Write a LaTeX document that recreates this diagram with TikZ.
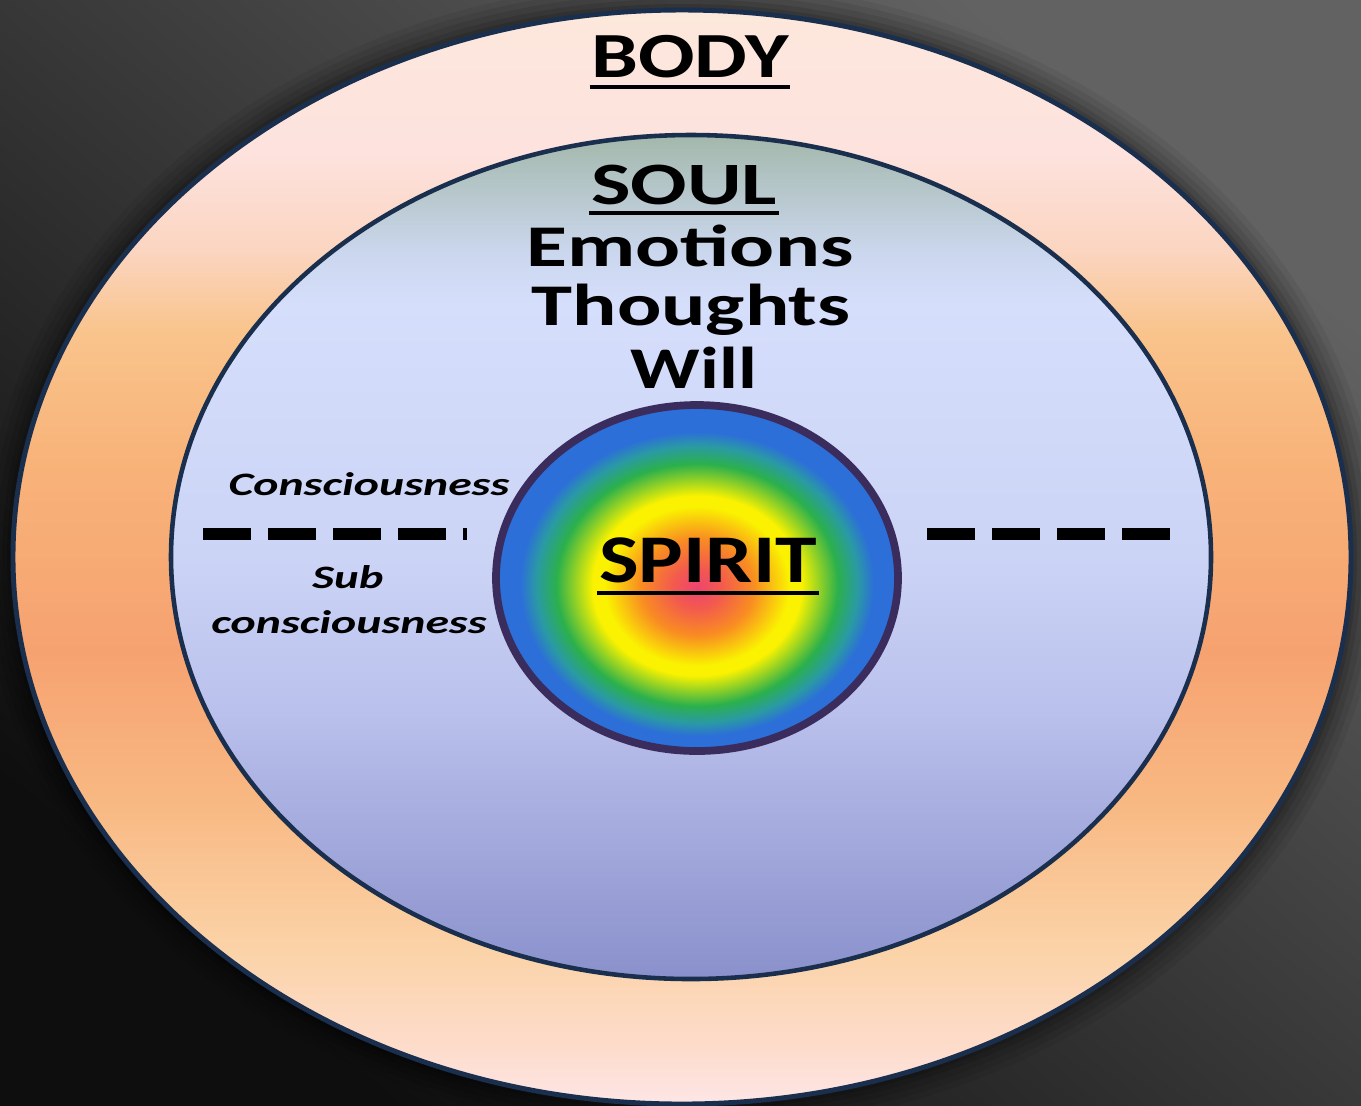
\documentclass[tikz,border=0pt]{standalone}
\usepackage{fontspec}
\setmainfont{Carlito}
\usepackage{graphicx}
\usetikzlibrary{calc}
\definecolor{bgtop}{HTML}{626262}
\definecolor{bgbot}{HTML}{0E0E0E}
\definecolor{rimline}{HTML}{1A2F4E}
\definecolor{spiritline}{HTML}{3A2D5E}
\definecolor{ringA}{HTML}{FDE6E6}
\definecolor{ringB}{HTML}{FDDCCC}
\definecolor{ringC}{HTML}{FBD3A8}
\definecolor{ringD}{HTML}{F8B882}
\definecolor{ringE}{HTML}{F6A270}
\definecolor{ringF}{HTML}{F8B47A}
\definecolor{ringG}{HTML}{F9C48C}
\definecolor{ringH}{HTML}{FBD5C0}
\definecolor{ringI}{HTML}{FDE2DE}
\definecolor{ringJ}{HTML}{FDE8DC}
\definecolor{soulA}{HTML}{8A90CB}
\definecolor{soulB}{HTML}{BAC1EC}
\definecolor{soulC}{HTML}{CCD4F6}
\definecolor{soulD}{HTML}{D5DEFB}
\definecolor{soulE}{HTML}{CBD7EE}
\definecolor{soulF}{HTML}{A3B8AB}
\definecolor{spA}{HTML}{EE4470}
\definecolor{spB}{HTML}{F35A4E}
\definecolor{spC}{HTML}{F98C22}
\definecolor{spD}{HTML}{FAF200}
\definecolor{spE}{HTML}{2BB04C}
\definecolor{spF}{HTML}{2A9AA4}
\definecolor{spG}{HTML}{2C6FD8}
\pgfdeclareverticalshading{ringshade}{100bp}{%
  color(0bp)=(ringA); color(25bp)=(ringA); color(27.5bp)=(ringB); color(32bp)=(ringC);
  color(38.9bp)=(ringD); color(45.7bp)=(ringE); color(54.8bp)=(ringF); color(60.3bp)=(ringG);
  color(64bp)=(ringH); color(68.5bp)=(ringI); color(75bp)=(ringJ); color(100bp)=(ringJ)}
\pgfdeclareverticalshading{soulshade}{100bp}{%
  color(0bp)=(soulA); color(25bp)=(soulA); color(41bp)=(soulB); color(50bp)=(soulC);
  color(65bp)=(soulD); color(68bp)=(soulE); color(75bp)=(soulF); color(100bp)=(soulF)}
\pgfdeclareradialshading{spiritshade}{\pgfpoint{0bp}{-1.5bp}}{%
  color(0bp)=(spA); color(3bp)=(spB); color(7bp)=(spC); color(11.5bp)=(spD);
  color(13bp)=(spD); color(17.5bp)=(spE); color(20bp)=(spF); color(22bp)=(spG);
  color(25bp)=(spG); color(50bp)=(spG)}
\newcommand\hs[2]{\scalebox{#1}[1]{#2}}
\tikzset{
  lbl/.style={inner sep=0pt, anchor=base, text=black},
  bigfont/.style={font=\bfseries\fontsize{#1}{#1}\selectfont},
  smallfont/.style={font=\bfseries\itshape\fontsize{9.3}{10}\selectfont},
  uline/.style={line width=1.4pt, black},
  divider/.style={line width=1.2mm, black, dash pattern=on 4.8mm off 1.7mm}
}
\begin{document}
\begin{tikzpicture}[x=0.01cm,y=-0.01cm]
\useasboundingbox (0,0) rectangle (1361,1105);
\shade[top color=bgtop, bottom color=bgbot, shading angle=-40] (0,0) rectangle (1361,1105);
% shadow halo
\foreach \d/\o in {28/0.06,22/0.07,16/0.08,10/0.1,5/0.12}{
  \fill[black, opacity=\o] (682,557) ellipse ({670+\d} and {548+\d});
}
% body
\shade[shading=ringshade, draw=rimline, line width=1.4pt] (682,557) ellipse (669 and 547);
% soul
\shade[shading=soulshade, draw=rimline, line width=1.3pt] (691,557) ellipse (520 and 422);
% spirit
\shade[shading=spiritshade, draw=spiritline, line width=2.2pt] (697,578) ellipse (201 and 173);

% texts
\node[lbl, bigfont=18.3] (body) at (690,77) {\hs{1.3}{BODY}};
\draw[uline] ($(body.base west)+(-1,10)$) -- ($(body.base east)+(1,10)$);
\node[lbl, bigfont=17.1] (soul) at (684,204) {\hs{1.39}{SOUL}};
\draw[uline] ($(soul.base west)+(-1,9)$) -- ($(soul.base east)+(1,9)$);
\node[lbl, bigfont=16.8] (emo) at (690,266) {\hs{1.42}{Emotions}};
\node[lbl, bigfont=16.8] (tho) at (691,325) {\hs{1.40}{Thoughts}};
\node[lbl, bigfont=16.8] (will) at (694,388) {\hs{1.30}{Will}};
\node[lbl, bigfont=19.4] (spirit) at (708,582) {\hs{1.23}{SPIRIT}};
\draw[uline] ($(spirit.base west)+(-1,11)$) -- ($(spirit.base east)+(1,11)$);

\node[lbl, smallfont] (con) at (369,495) {\hs{1.46}{Consciousness}};
\node[lbl, smallfont] (sub) at (348,588) {\hs{1.43}{Sub}};
\node[lbl, smallfont] (subc) at (349,633) {\hs{1.46}{consciousness}};

\coordinate (lA) at (203,534);
\coordinate (lB) at (467,534);
\coordinate (rA) at (927,534);
\coordinate (rB) at (1172,534);
\draw[divider] (lA) -- (lB);
\draw[divider] (rA) -- (rB);
\end{tikzpicture}
\end{document}
